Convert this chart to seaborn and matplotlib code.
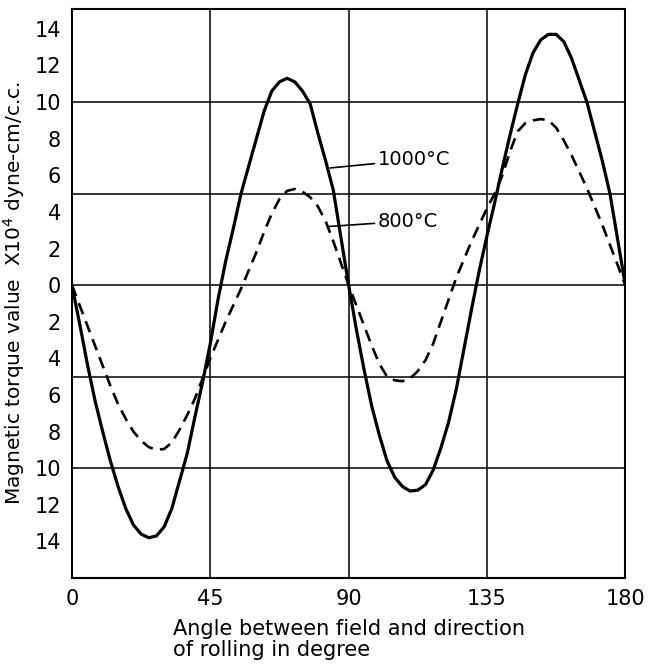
import numpy as np
import pandas as pd
import matplotlib
matplotlib.use("Agg")
import matplotlib.pyplot as plt
import seaborn as sns

angle = [0, 2.5, 5, 7.5, 10, 12.5, 15, 17.5, 20, 22.5, 25, 27.5, 30, 32.5, 35, 37.5,
         40, 42.5, 45, 47.5, 50, 52.5, 55, 57.5, 60, 62.5, 65, 67.5, 70, 72.5, 75,
         77.5, 80, 82.5, 85, 87.5, 90, 92.5, 95, 97.5, 100, 102.5, 105, 107.5, 110,
         112.5, 115, 117.5, 120, 122.5, 125, 127.5, 130, 132.5, 135, 137.5, 140,
         142.5, 145, 147.5, 150, 152.5, 155, 157.5, 160, 162.5, 165, 167.5, 170,
         172.5, 175, 177.5, 180]

# torque x 10^4 dyne-cm/c.c.
torque_1000 = [0, -2.1, -4.3, -6.3, -8.0, -9.6, -11.0, -12.2, -13.1, -13.6, -13.8, -13.7,
               -13.2, -12.2, -10.7, -9.2, -7.2, -5.3, -3.2, -0.8, 1.3, 3.1, 5.0, 6.5,
               8.0, 9.5, 10.6, 11.1, 11.3, 11.1, 10.6, 9.9, 8.3, 6.8, 5.2, 2.6, 0,
               -2.4, -4.6, -6.6, -8.2, -9.6, -10.5, -11.0, -11.25, -11.2, -10.9, -10.1,
               -8.9, -7.5, -5.7, -3.5, -1.3, 0.8, 2.7, 4.5, 6.4, 8.2, 9.9, 11.5, 12.7,
               13.4, 13.7, 13.7, 13.3, 12.4, 11.2, 10.0, 8.4, 6.8, 5.0, 2.5, 0]

torque_800 = [0, -1.1, -2.2, -3.3, -4.4, -5.5, -6.5, -7.3, -8.0, -8.5, -8.85, -9.0,
              -8.95, -8.6, -7.9, -7.1, -6.2, -5.1, -4.0, -3.0, -2.0, -1.1, -0.2, 0.8,
              1.8, 2.9, 3.9, 4.7, 5.15, 5.25, 5.1, 4.8, 4.3, 3.5, 2.4, 1.2, 0,
              -1.1, -2.2, -3.3, -4.3, -5.0, -5.2, -5.25, -5.1, -4.7, -4.1, -3.2,
              -2.0, -0.8, 0.4, 1.4, 2.4, 3.3, 4.2, 5.0, 6.0, 7.3, 8.4, 8.85, 9.0,
              9.07, 9.0, 8.6, 7.9, 7.1, 6.2, 5.3, 4.3, 3.3, 2.2, 1.1, 0]

x_ticks = [0, 45, 90, 135, 180]
y_ticks = list(range(-14, 15, 2))
grid_x = [45, 90, 135]
grid_y = [-10, -5, 0, 5, 10]

df = pd.DataFrame({"angle": angle, "t1000": torque_1000, "t800": torque_800})

sns.set_style("white")
plt.rcParams["font.family"] = ["DejaVu Sans"]
plt.rcParams["text.color"] = "black"
plt.rcParams["axes.labelcolor"] = "black"
plt.rcParams["xtick.color"] = "black"
plt.rcParams["ytick.color"] = "black"

fig = plt.figure(figsize=(6.48, 6.69), dpi=100)
ax = fig.add_axes([0.111, 0.136, 0.854, 0.851])

for gx in grid_x:
    ax.axvline(gx, color="black", lw=1.1, zorder=1)
for gy in grid_y:
    ax.axhline(gy, color="black", lw=1.1, zorder=1)

sns.lineplot(data=df, x="angle", y="t1000", ax=ax, color="black", lw=2.3, zorder=3)
sns.lineplot(data=df, x="angle", y="t800", ax=ax, color="black", lw=1.9, zorder=3)
ax.lines[-1].set_dashes([4.5, 2.8])
for ln in ax.lines[-2:]:
    ln.set_solid_joinstyle("round")
    ln.set_dash_joinstyle("round")

# curve labels with leader lines
ax.annotate("1000°C", xy=(84, 6.4), xytext=(99.5, 6.85), fontsize=14, va="center",
            arrowprops=dict(arrowstyle="-", color="black", lw=1.2, shrinkA=0, shrinkB=0))
ax.annotate("800°C", xy=(83.4, 3.2), xytext=(99.5, 3.5), fontsize=14, va="center",
            arrowprops=dict(arrowstyle="-", color="black", lw=1.2, shrinkA=0, shrinkB=0))

ax.set_xlim(0, 180)
ax.set_ylim(-16, 15.1)
ax.set_xticks(x_ticks)
ax.set_xticklabels([str(v) for v in x_ticks])
ax.set_yticks(y_ticks)
ax.set_yticklabels([str(abs(v)) for v in y_ticks])
ax.tick_params(axis="y", direction="in", length=7, width=1.1, labelsize=15, pad=8)
ax.tick_params(axis="x", direction="in", length=0, labelsize=15, pad=8)

for sp in ax.spines.values():
    sp.set_color("black")
    sp.set_linewidth(1.5)

ax.set_xlabel("Angle between field and direction\nof rolling in degree",
              fontsize=15, multialignment="left", labelpad=7, linespacing=1.05)
ax.set_ylabel(r"Magnetic torque value  X10$^4$ dyne-cm/c.c.", fontsize=14.5, labelpad=5)

fig.savefig("out.png", dpi=100)
